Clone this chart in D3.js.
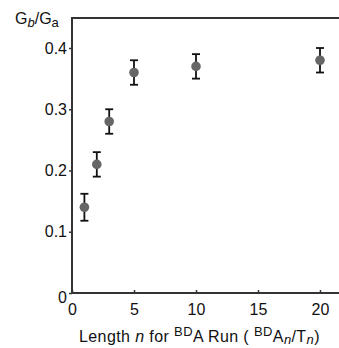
<!doctype html>
<html lang="en">
<head>
<meta charset="utf-8">
<title>Gb/Ga vs run length</title>
<style>
  body { margin: 0; background: #fff; }
  text { font-family: "Liberation Sans", Arial, Helvetica, sans-serif; fill: #111; }
</style>
<script src="https://d3js.org/d3.v7.min.js"></script>
</head>
<body>
<div id="chart"></div>
<script>
  // data
  var runLength = [1, 2, 3, 5, 10, 20];
  var ratio     = [0.14, 0.21, 0.28, 0.36, 0.37, 0.38];
  var errBar    = [0.022, 0.02, 0.02, 0.02, 0.02, 0.02];
  var xTicks = [0, 5, 10, 15, 20];
  var yTicks = [0, 0.1, 0.2, 0.3, 0.4];
  var yTickLabels = ["0", "0.1", "0.2", "0.3", "0.4"];

  var W = 339, H = 348;
  var margin = {top: 18, right: 0, bottom: 55, left: 72};
  var width = W - margin.left - margin.right,
      height = H - margin.top - margin.bottom;

  var svg = d3.select("#chart").append("svg")
    .attr("width", W)
    .attr("height", H);

  var g = svg.append("g")
    .attr("transform", "translate(" + margin.left + "," + margin.top + ")");

  var x = d3.scaleLinear().domain([0, 20]).range([0, 248]);
  var y = d3.scaleLinear().domain([0, 0.449]).range([height, 0]);

  // x axis (ticks point inward)
  var xAxis = g.append("g")
    .attr("transform", "translate(0," + height + ")")
    .call(d3.axisBottom(x).tickValues(xTicks).tickSize(-3).tickPadding(11).tickSizeOuter(0));
  xAxis.select(".domain").remove();
  xAxis.selectAll(".tick line").attr("stroke", "#333").attr("stroke-width", 1.5);
  xAxis.selectAll("text").attr("font-size", "16px").attr("dy", "0.71em");

  var yAxis = g.append("g")
    .call(d3.axisLeft(y).tickValues(yTicks).tickSize(3).tickPadding(2)
      .tickFormat(function(d, i) { return yTickLabels[i]; }));
  yAxis.select(".domain").remove();
  yAxis.selectAll(".tick line").attr("stroke", "#333").attr("stroke-width", 1.5);
  yAxis.selectAll("text").attr("font-size", "16px");
  yAxis.selectAll(".tick").filter(function(d) { return d === 0; })
    .select("text").attr("dy", "0.6em");

  // frame: left, top, bottom lines
  g.append("line")
    .attr("x1", 0).attr("x2", 0).attr("y1", 0).attr("y2", height)
    .attr("stroke", "#333").attr("stroke-width", 2);
  g.append("line")
    .attr("x1", -1).attr("x2", width).attr("y1", 0).attr("y2", 0)
    .attr("stroke", "#333").attr("stroke-width", 2);
  g.append("line")
    .attr("x1", -1).attr("x2", width).attr("y1", height).attr("y2", height)
    .attr("stroke", "#333").attr("stroke-width", 2);

  var pts = runLength.map(function(d, i) {
    return {n: d, v: ratio[i], e: errBar[i]};
  });

  // error bars
  var bars = g.selectAll(".err").data(pts).enter().append("g").attr("class", "err")
    .attr("stroke", "#111").attr("stroke-width", 1.8);
  bars.append("line")
    .attr("x1", function(d) { return x(d.n); })
    .attr("x2", function(d) { return x(d.n); })
    .attr("y1", function(d) { return y(d.v + d.e); })
    .attr("y2", function(d) { return y(d.v - d.e); });
  bars.append("line")
    .attr("x1", function(d) { return x(d.n) - 4; })
    .attr("x2", function(d) { return x(d.n) + 4; })
    .attr("y1", function(d) { return y(d.v + d.e); })
    .attr("y2", function(d) { return y(d.v + d.e); });
  bars.append("line")
    .attr("x1", function(d) { return x(d.n) - 4; })
    .attr("x2", function(d) { return x(d.n) + 4; })
    .attr("y1", function(d) { return y(d.v - d.e); })
    .attr("y2", function(d) { return y(d.v - d.e); });

  // points
  g.selectAll(".dot").data(pts).enter().append("circle")
    .attr("class", "dot")
    .attr("cx", function(d) { return x(d.n); })
    .attr("cy", function(d) { return y(d.v); })
    .attr("r", 4.8)
    .attr("fill", "#666");

  // y title
  var yt = svg.append("text").attr("x", 15).attr("y", 24).attr("font-size", "16px");
  yt.append("tspan").text("G");
  yt.append("tspan").attr("font-style", "italic").attr("font-size", "13px").attr("dy", 3).text("b");
  yt.append("tspan").attr("dy", -3).text("/G");
  yt.append("tspan").attr("font-size", "13px").attr("dy", 3).text("a");

  // x title
  var xt = svg.append("text").attr("x", 79).attr("y", 342).attr("font-size", "16px")
    .attr("letter-spacing", "0.4px");
  xt.append("tspan").text("Length ");
  xt.append("tspan").attr("font-style", "italic").text("n");
  xt.append("tspan").text(" for ");
  xt.append("tspan").attr("font-size", "13px").attr("dy", -6).text("BD");
  xt.append("tspan").attr("dy", 6).text("A Run ( ");
  xt.append("tspan").attr("font-size", "13px").attr("dy", -6).text("BD");
  xt.append("tspan").attr("dy", 6).text("A");
  xt.append("tspan").attr("font-style", "italic").attr("font-size", "13px").attr("dy", 2).text("n");
  xt.append("tspan").attr("dy", -2).text("/T");
  xt.append("tspan").attr("font-style", "italic").attr("font-size", "13px").attr("dy", 2).text("n");
  xt.append("tspan").attr("dy", -2).text(")");
</script>
</body>
</html>
